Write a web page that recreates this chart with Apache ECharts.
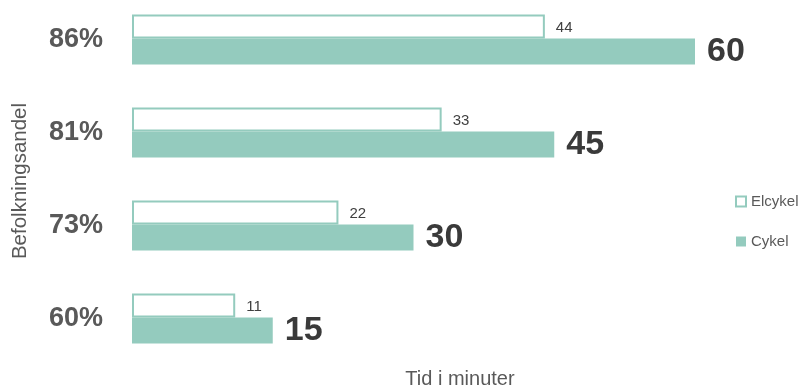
<!DOCTYPE html>
<html><head><meta charset="utf-8">
<script src="https://cdn.jsdelivr.net/npm/echarts@6/dist/echarts.min.js"></script>
<style>html,body{margin:0;padding:0;background:#fff;overflow:hidden}#c{position:absolute;left:0;top:-7px;width:801px;height:394px}</style>
</head><body><div id="c"></div>
<script>
var categories = ['86%', '81%', '73%', '60%'];
var elcykel = [44, 33, 22, 11];
var cykel = [60, 45, 30, 15];
var legendNames = ['Elcykel', 'Cykel'];
var xTitle = 'Tid i minuter';
var yTitle = 'Befolkningsandel';
var teal = '#94cbbe';
var chart = echarts.init(document.getElementById('c'));
chart.setOption({
  animation: false,
  grid: { left: 132, right: 106, top: 0, bottom: 22 },
  legend: {
    orient: 'vertical', left: 735, top: 201, padding: 0, itemWidth: 10, itemHeight: 10, itemGap: 25,
    icon: 'rect',
    data: legendNames,
    textStyle: { fontFamily: 'Liberation Sans', fontSize: 15, color: '#595959' }
  },
  xAxis: { type: 'value', min: 0, max: 60, show: false },
  yAxis: {
    type: 'category', data: categories, inverse: true,
    axisLine: { show: false }, axisTick: { show: false },
    axisLabel: { margin: 29, fontFamily: 'Liberation Sans', fontSize: 27, fontWeight: 'bold', color: '#595959' }
  },
  graphic: [
    { type: 'text', x: 460, y: 386, style: { text: xTitle, font: '20px Liberation Sans', fill: '#595959', align: 'center', verticalAlign: 'middle' } },
    { type: 'text', x: 20, y: 188, rotation: Math.PI / 2, style: { text: yTitle, font: '20.5px Liberation Sans', fill: '#595959', align: 'center', verticalAlign: 'middle' } }
  ],
  series: [
    { name: 'Elcykel', type: 'bar', data: elcykel, barWidth: 24, barGap: '0%',
      itemStyle: { color: '#ffffff', borderColor: teal, borderWidth: 2 },
      label: { show: true, position: 'right', distance: 11, offset: [0, 1], fontFamily: 'Liberation Sans', fontSize: 15, color: '#404040' } },
    { name: 'Cykel', type: 'bar', data: cykel, barWidth: 26,
      itemStyle: { color: teal },
      label: { show: true, position: 'right', distance: 12, offset: [0, 0], fontFamily: 'Liberation Sans', fontSize: 34, fontWeight: 'bold', color: '#3a3a3a' } }
  ]
});
</script></body></html>
